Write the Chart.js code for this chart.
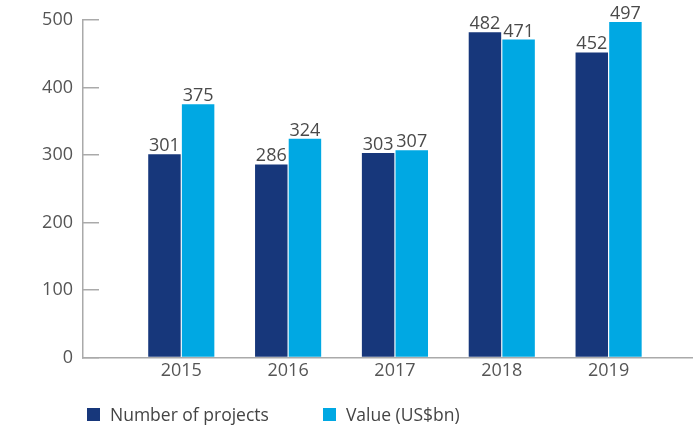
<!DOCTYPE html>
<html>
<head>
<meta charset="utf-8">
<script src="https://cdn.jsdelivr.net/npm/chart.js@4.4.1/dist/chart.umd.min.js"></script>
<style>
  html, body { margin: 0; padding: 0; background: #fff; }
  .wrap { position: relative; width: 693px; height: 427px; }
  #legend { position: absolute; left: 87px; top: 402px; display: flex; font-family: "Open Sans", sans-serif; font-size: 17.5px; color: #444; }
  #legend .item { display: flex; align-items: center; margin-right: 54px; }
  #legend .box { width: 13px; height: 13px; margin-right: 10px; }
</style>
</head>
<body>
<div class="wrap">
  <canvas id="chart_deals" width="693" height="427"></canvas>
  <div id="legend"></div>
</div>
<script>
const years = [2015, 2016, 2017, 2018, 2019];
const projects = [301, 286, 303, 482, 452];
const values = [375, 324, 307, 471, 497];
const seriesNames = ["Number of projects", "Value (US$bn)"];
const seriesColors = ["#17377b", "#00a8e3"];

const ctx = document.getElementById("chart_deals").getContext("2d");

// numbers above each bar
const barLabels = {
  id: "barLabels",
  afterDatasetsDraw(chart) {
    const c = chart.ctx;
    c.save();
    c.font = '18px "Open Sans"';
    c.fillStyle = "#4a4a4a";
    c.textAlign = "center";
    c.textBaseline = "alphabetic";
    chart.data.datasets.forEach((ds, i) => {
      chart.getDatasetMeta(i).data.forEach((bar, j) => {
        c.fillText(ds.data[j].y, bar.x, bar.y - 3);
      });
    });
    c.restore();
  }
};

function toPoints(arr) {
  return years.map((y, i) => ({ x: y, y: arr[i] }));
}

const my_chart = new Chart(ctx, {
  type: "bar",
  data: {
    datasets: [
      {
        label: seriesNames[0],
        data: toPoints(projects),
        backgroundColor: seriesColors[0],
        categoryPercentage: 0.63,
        barPercentage: 0.965,
      },
      {
        label: seriesNames[1],
        data: toPoints(values),
        backgroundColor: seriesColors[1],
        categoryPercentage: 0.63,
        barPercentage: 0.965,
      },
    ],
  },
  options: {
    responsive: false,
    animation: false,
    layout: { padding: { top: 20, right: 0, left: 0, bottom: 42 } },
    plugins: {
      legend: { display: false },
      tooltip: { enabled: false },
    },
    scales: {
      x: {
        type: "linear",
        offset: false,
        min: 2014.08,
        max: 2019.79,
        grid: { display: false, drawTicks: false },
        border: { display: true, color: "#aaa", width: 1.5 },
        ticks: {
          stepSize: 1,
          includeBounds: false,
          padding: 3,
          color: "#555",
          font: { family: "Open Sans", size: 18 },
          callback: (v) => String(v),
        },
      },
      y: {
        min: 0,
        max: 500,
        grid: { drawOnChartArea: false, tickLength: -16, color: "#aaa", lineWidth: 1.5 },
        border: { color: "#aaa", width: 1.5 },
        ticks: {
          stepSize: 100,
          padding: 26,
          color: "#555",
          font: { family: "Open Sans", size: 18 },
        },
        afterFit: (scale) => {
          scale.width = 83;
          scale.paddingTop = 0;
          scale.paddingBottom = 0;
        },
      },
    },
  },
  plugins: [barLabels],
});

// legend from the chart's datasets
const legendDiv = document.getElementById("legend");
my_chart.data.datasets.forEach((ds) => {
  const item = document.createElement("div");
  item.className = "item";
  item.innerHTML = '<span class="box" style="background:' + ds.backgroundColor + '"></span><span>' + ds.label + "</span>";
  legendDiv.appendChild(item);
});
</script>
</body>
</html>
